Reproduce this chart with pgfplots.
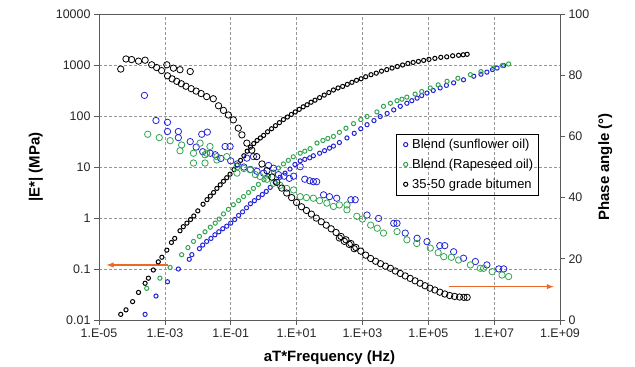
\documentclass[border=0pt]{standalone}
\usepackage{fontspec}
\setmainfont{Liberation Sans}
\usepackage{pgfplots}
\pgfplotsset{compat=1.18}
\definecolor{bblue}{RGB}{35,35,215}
\definecolor{bgreen}{RGB}{50,165,80}
\definecolor{arroworange}{RGB}{235,105,40}
\definecolor{axgray}{RGB}{90,90,90}
\definecolor{gridgray}{RGB}{150,150,150}
\begin{document}
\begin{tikzpicture}
\useasboundingbox (-99bp,-47bp) rectangle (536bp,320bp);
\begin{axis}[
  scale only axis, width=461bp, height=306bp,
  at={(0,0)}, anchor=south west,
  xmode=log, xmin=1e-5, xmax=1e9,
  xminorticks=false, yminorticks=false,
  tick align=outside, major tick length=5bp,
  tick style={axgray, line width=0.6bp},
  axis line style={axgray, line width=0.8bp},
  ticklabel style={font=\fontsize{12.5}{14}\selectfont, text=black!85},
  label style={font=\fontsize{15}{17}\selectfont\bfseries},
  /pgf/number format/assume math mode=true,
  ymode=log, ymin=0.01, ymax=10000,
  xtick={1e-5,1e-3,1e-1,1e1,1e3,1e5,1e7,1e9},
  xticklabels={1.E-05,1.E-03,1.E-01,1.E+01,1.E+03,1.E+05,1.E+07,1.E+09},
  ytick={0.01,0.1,1,10,100,1000,10000},
  yticklabels={0.01,0.1,1,10,100,1000,10000},
  xtick pos=bottom, ytick pos=left,
  grid=major, major grid style={gridgray, dash pattern=on 3bp off 2bp, line width=0.6bp},
  xlabel={aT*Frequency (Hz)},
  ylabel={|E*| (MPa)},
  xlabel style={at={(axis description cs:0.5,-0.124)}, anchor=center},
  ylabel style={at={(axis description cs:-0.137,0.5)}, anchor=center},
  legend cell align=left,
  legend image code/.code={\path (0bp,0bp) (11bp,0bp); \draw[#1] plot coordinates {(6bp,0bp)};},
  legend style={at={(0.953,0.608)}, anchor=north east, draw=black, fill=none,
    font=\fontsize{13}{14}\selectfont, inner xsep=3bp, inner ysep=3bp, row sep=5bp,
    /tikz/every odd column/.append style={column sep=-1bp}},
]
% Blend (sunflower oil) modulus
\addplot[only marks, mark=o, mark size=2.1bp, line width=1.0bp, bblue] coordinates {
(2.512e-4,0.0129) (5.370e-4,0.0295) (1.202e-3,0.0562) (2.570e-3,0.1) (5.495e-3,0.155)
(6.607e-3,0.191) (1.122e-2,0.251) (1.413e-2,0.295) (1.862e-2,0.347) (2.512e-2,0.398)
(3.311e-2,0.468) (4.365e-2,0.537) (5.754e-2,0.617) (7.586e-2,0.692) (0.1,0.794)
(0.1318,0.933) (0.1738,1.122) (0.2291,1.318) (0.3020,1.585) (0.3981,1.905)
(0.5248,2.188) (0.6918,2.512) (0.9120,2.884) (1.202,3.311) (1.585,3.981)
(2.239,5.012) (3.162,6.310) (4.467,7.586) (6.310,9.120) (8.913,11.22)
(12.88,13.18) (17.78,14.13) (25.12,15.14) (32.36,16.60) (50.12,18.62)
(70.79,20.89) (100,23.44) (131.8,25.70) (199.5,30.20) (338.8,37.15)
(562.3,45.71) (891.3,56.23) (1380,67.61) (2239,81.28) (3467,97.72)
(5623,112.2) (8913,131.8) (14130,154.9) (22390,177.8) (31620,199.5)
(45710,223.9) (63100,251.2) (91200,281.8) (141300,316.2) (229100,354.8)
(354800,398.1) (588800,446.7) (1175000,512.9) (2399000,602.6) (3981000,660.7)
(6026000,724.4) (8913000,812.8) (12300000,871.0) (19500000,977.2)
};
\addlegendentry{Blend (sunflower oil)}
% Blend (rapeseed oil) modulus
\addplot[only marks, mark=o, mark size=2.1bp, line width=1.0bp, bgreen] coordinates {
(2.818e-4,0.0417) (7.079e-4,0.0661) (1.445e-3,0.1072) (3.236e-3,0.1905) (5.012e-3,0.263)
(7.413e-3,0.347) (1.122e-2,0.4365) (1.660e-2,0.537) (2.399e-2,0.661) (3.388e-2,0.794)
(4.467e-2,0.955) (6.026e-2,1.202) (8.511e-2,1.479) (0.1202,1.820) (0.1738,2.188)
(0.2455,2.630) (0.3467,3.162) (0.4898,3.802) (0.6918,4.571) (1.023,5.623)
(1.413,6.607) (1.995,7.943) (2.818,9.550) (3.981,11.48) (5.623,13.49)
(7.943,15.85) (12.88,18.62) (17.78,20.42) (25.70,22.91) (41.69,29.51)
(63.10,33.11) (89.13,36.31) (131.8,39.81) (199.5,47.86) (316.2,57.54)
(537.0,70.79) (891.3,85.11) (1380,97.72) (2754,120.2) (4365,154.9)
(7079,177.8) (11220,199.5) (15850,213.8) (22390,234.4) (39810,269.2)
(63100,302.0) (114800,354.8) (199500,407.4) (371500,478.6) (794300,549.5)
(1905000,645.7) (3981000,741.3) (9550000,871.0) (17780000,977.2) (27540000,1047)
};
\addlegendentry{Blend (Rapeseed oil)}
% 35-50 bitumen modulus
\addplot[only marks, mark=o, mark size=2.1bp, line width=1.0bp, black] coordinates {
(4.57e-5,0.0129) (6.61e-5,0.0158) (1.05e-4,0.0229) (1.585e-4,0.0347) (2.512e-4,0.0525)
(3.162e-4,0.0661) (4.467e-4,0.0955) (6.31e-4,0.138) (8.13e-4,0.170) (1.148e-3,0.234)
(1.585e-3,0.331) (1.995e-3,0.398) (2.884e-3,0.562) (3.631e-3,0.676) (4.677e-3,0.794)
(6.026e-3,0.933) (7.586e-3,1.096) (1e-2,1.380) (1.445e-2,1.862) (1.905e-2,2.291)
(2.399e-2,2.692) (3.020e-2,3.162) (3.802e-2,3.802) (4.786e-2,4.467) (6.026e-2,5.248)
(7.586e-2,6.166) (9.550e-2,7.244) (0.1259,8.913) (0.1585,10.96) (0.1995,13.49)
(0.2512,16.60) (0.3162,20.42) (0.3981,24.55) (0.5012,28.84) (0.6310,33.11)
(0.7943,37.15) (1,41.69) (1.318,48.98) (1.738,56.23) (2.291,64.57)
(3.020,74.13) (3.981,85.11) (5.248,95.50) (6.918,107.2) (9.120,120.2)
(12.02,134.9) (15.85,151.4) (20.89,166.0) (27.54,186.2) (36.31,204.2)
(50.12,229.1) (69.18,257.0) (95.50,288.4) (131.8,323.6) (182.0,354.8)
(251.2,380.2) (346.7,416.9) (478.6,457.1) (660.7,501.2) (912.0,537.0)
(1259,588.8) (1820,645.7) (2630,691.8) (3802,758.6) (5495,812.8)
(7943,871.0) (11480,933.3) (16600,1000) (23990,1072) (34670,1122)
(50120,1175) (72440,1230) (104700,1288) (158500,1349) (239900,1413)
(363100,1445) (549500,1514) (831800,1549) (1148000,1585) (1514000,1622)
};
\addlegendentry{35-50 grade bitumen}
\addplot[->, >=latex, arroworange, line width=1.4bp, forget plot] coordinates {(1.288e-3,0.12) (1.698e-5,0.12)};
\end{axis}
\begin{axis}[
  scale only axis, width=461bp, height=306bp,
  at={(0,0)}, anchor=south west,
  xmode=log, xmin=1e-5, xmax=1e9,
  xminorticks=false, yminorticks=false,
  tick align=outside, major tick length=5bp,
  tick style={axgray, line width=0.6bp},
  axis line style={axgray, line width=0.8bp},
  ticklabel style={font=\fontsize{12.5}{14}\selectfont, text=black!85},
  label style={font=\fontsize{15}{17}\selectfont\bfseries},
  /pgf/number format/assume math mode=true,
  ymin=0, ymax=100, ytick={0,20,40,60,80,100},
  axis x line=none, axis y line*=right,
  ylabel={Phase angle (°)},
  ylabel style={at={(axis description cs:1.098,0.5)}, anchor=center},
]
% Blend (sunflower oil) phase
\addplot[only marks, mark=o, mark size=3.2bp, line width=0.8bp, bblue] coordinates {
(2.399e-4,73.4) (5.370e-4,65.2) (1.202e-3,64.6) (1.202e-3,61.6) (2.570e-3,61.6)
(2.570e-3,59.6) (5.888e-3,58.3) (8.913e-3,56.5) (1.318e-2,60.7) (1.950e-2,61.4)
(1.413e-2,55.0) (2.399e-2,54.5) (3.388e-2,54.0) (5.012e-2,52.8) (6.761e-2,56.7)
(9.550e-2,56.7) (0.1,52.0) (0.1585,51.0) (0.3090,52.9) (0.4898,53.4)
(0.2512,50.0) (0.3981,49.2) (0.6310,48.6) (1,48.0) (1.413,50.5)
(1.995,49.6) (2.818,47.5) (4.169,47.0) (6.026,46.3) (8.128,47.0)
(12.88,50.1) (17.78,46.0) (25.12,45.5) (32.36,45.2) (40.74,45.2)
(66.07,40.9) (100,40.3) (166.0,39.8) (446.7,39.3) (602.6,39.3)
(1380,34.3) (3090,33.2) (8913,31.6) (11220,31.6) (19950,28.4)
(45710,26.7) (91200,25.6) (223900,24.3) (316200,24.3) (588800,22.3)
(1175000,20.2) (2692000,19.1) (6026000,18.0) (13800000,16.7) (19500000,16.7)
};
% Blend (rapeseed oil) phase
\addplot[only marks, mark=o, mark size=3.2bp, line width=0.8bp, bgreen] coordinates {
(3.020e-4,60.7) (6.761e-4,59.6) (1.445e-3,58.6) (2.884e-3,55.3) (3.236e-3,57.2)
(7.413e-3,54.5) (7.413e-3,51.3) (1.175e-2,57.8) (1.660e-2,54.0) (1.660e-2,51.3)
(1.862e-2,54.5) (2.344e-2,56.7) (3.802e-2,53.4) (3.802e-2,52.3) (7.586e-2,53.4)
(0.1549,48.0) (0.1549,50.1) (0.2512,49.5) (0.3890,49.1) (0.5623,47.5)
(0.7762,46.9) (1.259,46.0) (1.995,44.7) (3.162,44.0) (5.012,43.0)
(8.128,42.5) (12.88,40.3) (19.95,40.0) (32.36,39.8) (50.12,39.0)
(83.18,38.2) (131.8,37.1) (199.5,37.6) (338.8,36.0) (338.8,37.6)
(676.1,33.9) (1000,33.0) (1778,31.0) (2818,30.0) (4365,28.4)
(11220,28.9) (22390,26.2) (44670,25.0) (114800,23.5) (199500,22.0)
(295100,20.7) (501200,20.5) (831800,19.6) (1905000,18.0) (3802000,16.9)
(4786000,16.9) (8710000,15.8) (17380000,14.7) (27540000,14.2)
};
% 35-50 bitumen phase
\addplot[only marks, mark=o, mark size=3.2bp, line width=0.8bp, black] coordinates {
(4.57e-5,82.0) (6.61e-5,85.3) (9.77e-5,85.1) (1.585e-4,84.6) (2.512e-4,84.9)
(3.981e-4,83.4) (5.623e-4,82.5) (7.943e-4,81.5) (1.148e-3,83.4) (1.820e-3,82.3)
(2.884e-3,81.8) (5.888e-3,81.2) (1.202e-3,79.8) (1.660e-3,78.8) (2.291e-3,78.0)
(3.162e-3,77.2) (4.365e-3,76.4) (6.310e-3,75.6) (8.913e-3,74.8) (1.259e-2,74.0)
(1.862e-2,73.0) (2.951e-2,72.3) (4.266e-2,70.0) (6.026e-2,68.5) (8.511e-2,67.0)
(0.1202,65.4) (0.1698,62.7) (0.2188,60.5) (0.3090,57.8) (0.4365,55.5)
(0.6166,53.4) (0.8913,51.0) (1.259,48.8) (1.778,46.7) (2.512,45.0)
(3.548,43.1) (5.012,41.5) (7.079,40.0) (10,38.4) (14.13,37.0)
(19.95,35.8) (28.18,34.6) (39.81,33.3) (56.23,32.1) (79.43,31.0)
(112.2,29.8) (158.5,28.6) (223.9,27.3) (316.2,26.2) (446.7,25.0)
(631.0,23.7) (891.3,22.5) (1259,21.2) (1778,20.1) (2512,19.2)
(3548,18.4) (5012,17.6) (7079,16.9) (10000,16.0) (14130,15.2)
(19950,14.4) (28180,13.6) (39810,12.8) (56230,12.0) (79430,11.2)
(112200,10.4) (158500,9.8) (223900,9.1) (316200,8.5) (446700,8.0)
(631000,7.7) (891300,7.5) (1202000,7.4) (1514000,7.4)
(199.5,26.8) (281.8,25.7) (398.1,24.7) (562.3,23.3)
};
\addplot[->, >=latex, arroworange, line width=1.4bp] coordinates {(4.169e5,10.9) (6.457e8,10.9)};
\end{axis}
\end{tikzpicture}
\end{document}
